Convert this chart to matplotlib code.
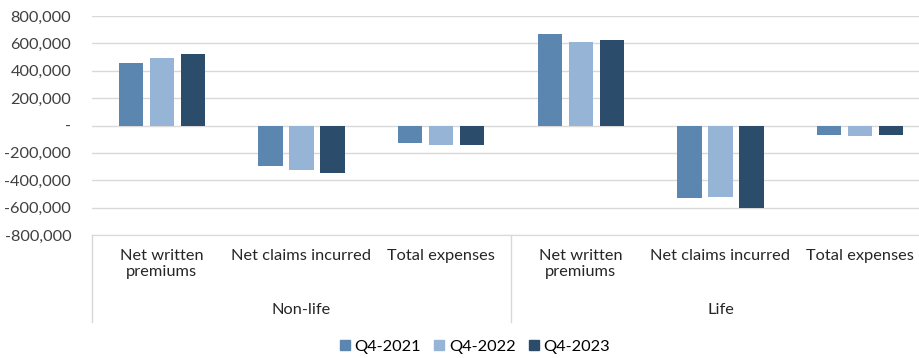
import matplotlib.pyplot as plt
import numpy as np
from matplotlib.ticker import FuncFormatter
from matplotlib.patches import Patch

plt.rcParams['font.family'] = ['Lato', 'DejaVu Sans']

# Values per category (Non-life then Life)
segments = ['Non-life', 'Life']
categories = ['Net written\npremiums', 'Net claims incurred', 'Total expenses']
years = ['Q4-2021', 'Q4-2022', 'Q4-2023']
q4_2021 = [460000, -299000, -131000, 672000, -533000, -71000]
q4_2022 = [496000, -328000, -139000, 613000, -526000, -78000]
q4_2023 = [525000, -350000, -146000, 623000, -606000, -71000]
colors = ['#5b86b0', '#95b4d6', '#2c4c6c']

fig = plt.figure(figsize=(9.2, 3.58), dpi=100)
ax = fig.add_axes([92 / 920, 1 - 235 / 358, 838 / 920, 219 / 358])

x = np.arange(6)
width = 0.172
step = 0.222
for i, (vals, c, lab) in enumerate(zip([q4_2021, q4_2022, q4_2023], colors, years)):
    ax.bar(x + (i - 1) * step, vals, width, color=c, label=lab, zorder=3)

fs = 11.8
ax.set_xlim(-0.5, 5.5)
ax.set_ylim(-800000, 800000)
ax.set_yticks(np.arange(-800000, 800001, 200000))
ax.yaxis.set_major_formatter(FuncFormatter(lambda v, p: '-' if v == 0 else f'{int(v):,}'))
ax.tick_params(axis='y', length=0, labelsize=fs, colors='#404040', pad=15)
ax.set_xticks([])
ax.grid(axis='y', color='#d9d9d9', linewidth=1, zorder=0)
for s in ['top', 'right', 'left']:
    ax.spines[s].set_visible(False)
ax.spines['bottom'].set_color('#d9d9d9')

# Two-level category labels below the axis
trans = ax.get_xaxis_transform()
for j in range(6):
    ax.text(j, -0.062, categories[j % 3], transform=trans, ha='center', va='top',
            fontsize=fs, color='#262626', linespacing=1.2)
for k, seg in enumerate(segments):
    ax.text(1 + 3 * k, -0.31, seg, transform=trans, ha='center', va='top',
            fontsize=fs, color='#262626')
for xs in [-0.5, 2.5, 5.5]:
    ax.plot([xs, xs], [0, -0.397], transform=trans, color='#d9d9d9', linewidth=1,
            clip_on=False)

handles = [Patch(color=c) for c in colors]
fig.legend(handles, years, loc='center', bbox_to_anchor=(475 / 920, 1 - 347 / 358),
           ncol=3, frameon=False, fontsize=fs, handlelength=0.6, handleheight=0.6,
           handletextpad=0.3, columnspacing=0.8)

fig.savefig('out.png', dpi=100)
